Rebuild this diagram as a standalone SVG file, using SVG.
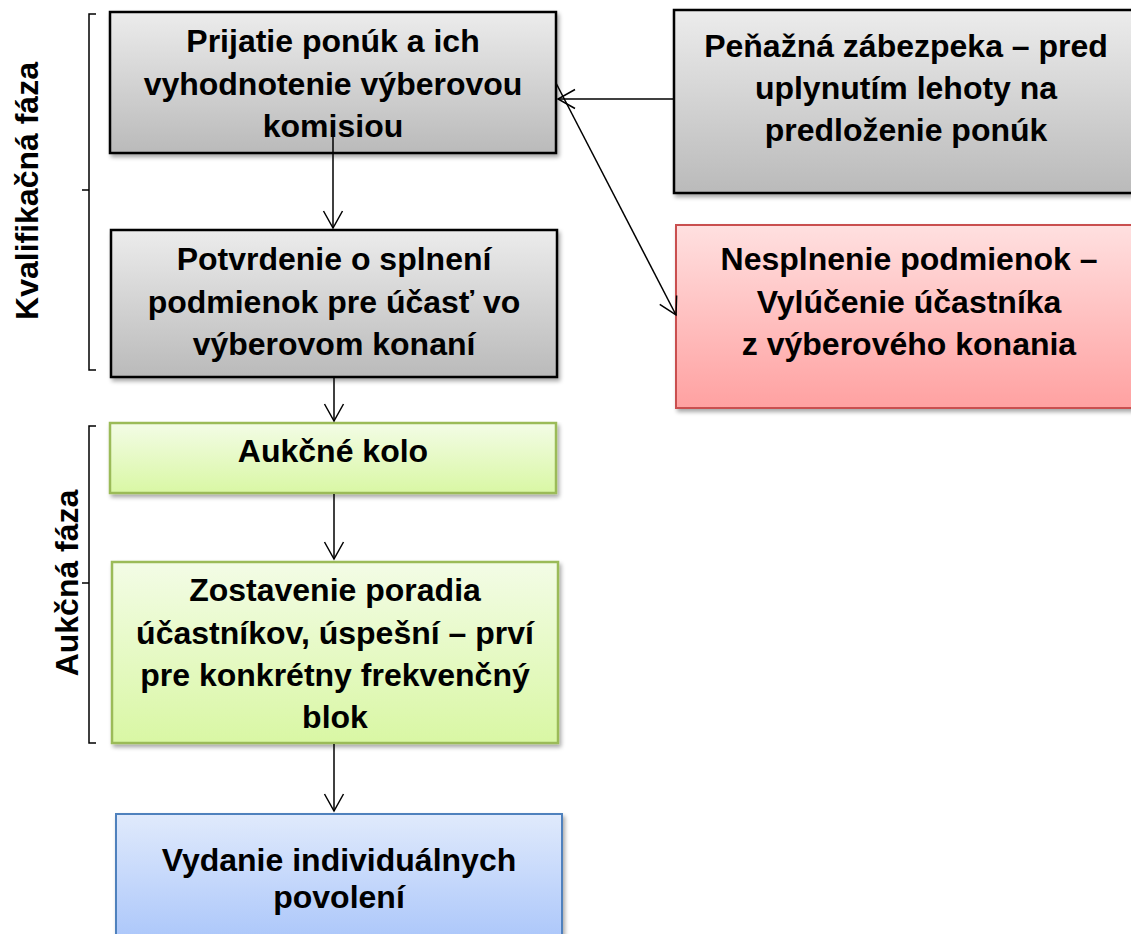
<svg xmlns="http://www.w3.org/2000/svg" width="1131" height="934" viewBox="0 0 1131 934">
<style>
.t{font-family:"Liberation Sans",Arial,sans-serif;font-weight:bold;font-size:32px;fill:#000;text-anchor:middle}
.c{stroke:#000;stroke-width:1.5;fill:none}
.gray{fill:url(#gGray);stroke:#000;stroke-width:2.5}
.green{fill:url(#gGreen);stroke:#9bbb59;stroke-width:2.5}
.red{fill:url(#gRed);stroke:#c9504f;stroke-width:2}
.blue{fill:url(#gBlue);stroke:#4f81bd;stroke-width:2}
.sh{filter:url(#shadow)}
</style>
<defs>
<linearGradient id="gGray" x1="0" y1="0" x2="0" y2="1"><stop offset="0" stop-color="#ececec"/><stop offset="1" stop-color="#bababa"/></linearGradient>
<linearGradient id="gGreen" x1="0" y1="0" x2="0" y2="1"><stop offset="0" stop-color="#f3fce6"/><stop offset="1" stop-color="#d9f7a4"/></linearGradient>
<linearGradient id="gRed" x1="0" y1="0" x2="0" y2="1"><stop offset="0" stop-color="#ffe0e0"/><stop offset="1" stop-color="#ffa1a1"/></linearGradient>
<linearGradient id="gBlue" x1="0" y1="0" x2="0" y2="1"><stop offset="0" stop-color="#e0eafc"/><stop offset="1" stop-color="#a6c3fa"/></linearGradient>
<filter id="shadow" x="-5%" y="-5%" width="115%" height="120%">
<feGaussianBlur in="SourceAlpha" stdDeviation="2"/>
<feOffset dx="2" dy="3" result="b"/>
<feComponentTransfer><feFuncA type="linear" slope="0.35"/></feComponentTransfer>
<feMerge><feMergeNode/><feMergeNode in="SourceGraphic"/></feMerge>
</filter>
<marker id="arr" markerUnits="userSpaceOnUse" viewBox="-20 -12 22 24" markerWidth="22" markerHeight="24" refX="0" refY="0" orient="auto" overflow="visible">
<path d="M-17,-9.5 L0,0 L-17,9.5" fill="none" stroke="#000" stroke-width="1.5"/>
</marker>
</defs>

<g id="phase-labels">
<text class="t" transform="translate(38,191) rotate(-90)">Kvalifikačná fáza</text>
<text class="t" transform="translate(78,583) rotate(-90)">Aukčná fáza</text>
<path class="c" d="M96,14 H89 V370 H96 M89,190 H82"/>
<path class="c" d="M96,426 H89 V743 H96 M89,583 H82"/>
</g>

<g id="n-prijatie">
<rect class="gray sh" x="110" y="12" width="446" height="141"/>
<text class="t" x="333" y="52">Prijatie ponúk a ich</text>
<text class="t" x="333" y="95">vyhodnotenie výberovou</text>
<text class="t" x="333" y="137">komisiou</text>
</g>

<g id="n-potvrdenie">
<rect class="gray sh" x="111" y="230" width="446" height="147"/>
<text class="t" x="334" y="270">Potvrdenie o splnení</text>
<text class="t" x="334" y="313">podmienok pre účasť vo</text>
<text class="t" x="334" y="355">výberovom konaní</text>
</g>

<g id="n-zabezpeka">
<rect class="gray sh" x="674" y="10" width="466" height="183"/>
<text class="t" x="906" y="57">Peňažná zábezpeka – pred</text>
<text class="t" x="906" y="99">uplynutím lehoty na</text>
<text class="t" x="906" y="141">predloženie ponúk</text>
</g>

<g id="n-nesplnenie">
<rect class="red sh" x="676" y="225" width="464" height="183"/>
<text class="t" x="909" y="270">Nesplnenie podmienok –</text>
<text class="t" x="909" y="313">Vylúčenie účastníka</text>
<text class="t" x="909" y="355">z výberového konania</text>
</g>

<g id="n-aukcne-kolo">
<rect class="green sh" x="110" y="423" width="446" height="70"/>
<text class="t" x="333" y="462">Aukčné kolo</text>
</g>

<g id="n-poradie">
<rect class="green sh" x="112" y="562" width="446" height="181"/>
<text class="t" x="335" y="601">Zostavenie poradia</text>
<text class="t" x="335" y="644">účastníkov, úspešní – prví</text>
<text class="t" x="335" y="686">pre konkrétny frekvenčný</text>
<text class="t" x="335" y="728">blok</text>
</g>

<g id="n-vydanie">
<rect class="blue sh" x="116" y="814" width="446" height="140"/>
<text class="t" x="339" y="871">Vydanie individuálnych</text>
<text class="t" x="339" y="908">povolení</text>
</g>

<g id="connectors">
<line class="c" x1="333" y1="137" x2="333" y2="228" marker-end="url(#arr)"/>
<line class="c" x1="334" y1="378" x2="334" y2="421" marker-end="url(#arr)"/>
<line class="c" x1="334" y1="494" x2="334" y2="559" marker-end="url(#arr)"/>
<line class="c" x1="334" y1="744" x2="334" y2="811" marker-end="url(#arr)"/>
<line class="c" x1="674" y1="99" x2="558" y2="99" marker-end="url(#arr)"/>
<line class="c" x1="556" y1="83" x2="676" y2="315" marker-end="url(#arr)"/>
</g>
</svg>
